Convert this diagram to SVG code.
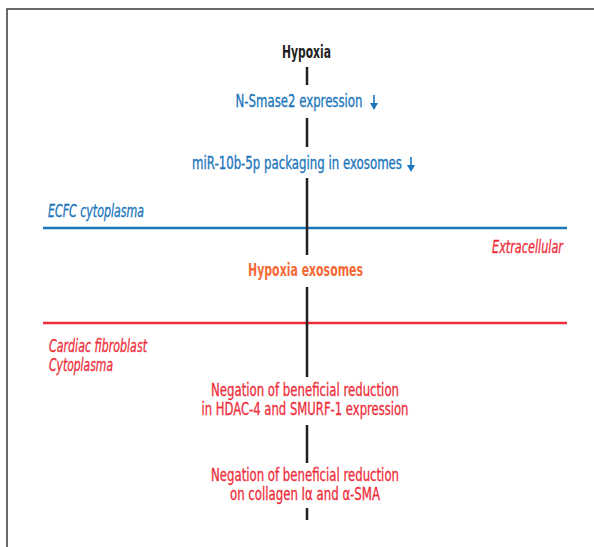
<svg xmlns="http://www.w3.org/2000/svg" width="594" height="547" viewBox="0 0 594 547">
<style>
text{font-family:"Liberation Sans Narrow","DejaVu Sans Condensed","Liberation Sans",sans-serif;font-size:17px;text-anchor:middle;stroke-width:0.3}
.k{fill:#231f20;font-weight:bold}
.b{fill:#1a75bb;stroke:#1a75bb}
.r{fill:#ee2d3a;stroke:#ee2d3a}
.o{fill:#f26a36;font-weight:bold}
.i{font-style:italic;text-anchor:start}
.conn line{stroke:#231f20;stroke-width:2.5}
</style>
<defs>
<g id="down">
<line x1="0" y1="0" x2="0" y2="11" stroke="#1a75bb" stroke-width="1.6"/>
<polygon points="-4,8 4,8 0,15" fill="#1a75bb"/>
</g>
</defs>
<rect width="594" height="547" fill="#fff"/>
<path d="M7,547 V9 H594" fill="none" stroke="#3a3a3a" stroke-width="1.5"/>
<g id="membranes">
<line x1="43" y1="228" x2="567" y2="228" stroke="#1a75bb" stroke-width="2.4"/>
<line x1="43" y1="323" x2="567" y2="323" stroke="#ee2d3a" stroke-width="2.4"/>
</g>
<g class="conn" id="connectors">
<line x1="307" y1="67" x2="307" y2="85"/>
<line x1="307" y1="118" x2="307" y2="147"/>
<line x1="307" y1="178" x2="307" y2="255"/>
<line x1="307" y1="287" x2="307" y2="377"/>
<line x1="307" y1="425" x2="307" y2="463"/>
<line x1="307" y1="508" x2="307" y2="520"/>
</g>
<g id="hypoxia"><text class="k" x="306.5" y="58" textLength="49" lengthAdjust="spacingAndGlyphs">Hypoxia</text></g>
<g id="nsmase2"><text class="b" x="299" y="107" textLength="127" lengthAdjust="spacingAndGlyphs">N-Smase2 expression</text><use href="#down" x="374" y="95"/></g>
<g id="mir10b"><text class="b" x="297" y="169" textLength="210" lengthAdjust="spacingAndGlyphs">miR-10b-5p packaging in exosomes</text><use href="#down" x="411" y="157"/></g>
<g id="ecfc"><text class="b i" x="48" y="217" textLength="96" lengthAdjust="spacingAndGlyphs">ECFC cytoplasma</text></g>
<g id="extracellular"><text class="r i" x="492" y="253" textLength="71" lengthAdjust="spacingAndGlyphs">Extracellular</text></g>
<g id="hypoxia-exosomes"><text class="o" x="305.5" y="276" textLength="115" lengthAdjust="spacingAndGlyphs">Hypoxia exosomes</text></g>
<g id="cardiac"><text class="r i" x="49" y="352" textLength="98" lengthAdjust="spacingAndGlyphs">Cardiac fibroblast</text><text class="r i" x="49" y="371" textLength="64" lengthAdjust="spacingAndGlyphs">Cytoplasma</text></g>
<g id="negation1"><text class="r" x="305" y="396" textLength="188" lengthAdjust="spacingAndGlyphs">Negation of beneficial reduction</text><text class="r" x="305" y="415" textLength="207" lengthAdjust="spacingAndGlyphs">in HDAC-4 and SMURF-1 expression</text></g>
<g id="negation2"><text class="r" x="305" y="481" textLength="188" lengthAdjust="spacingAndGlyphs">Negation of beneficial reduction</text><text class="r" x="305" y="500" textLength="150" lengthAdjust="spacingAndGlyphs">on collagen Iα and α-SMA</text></g>
</svg>
